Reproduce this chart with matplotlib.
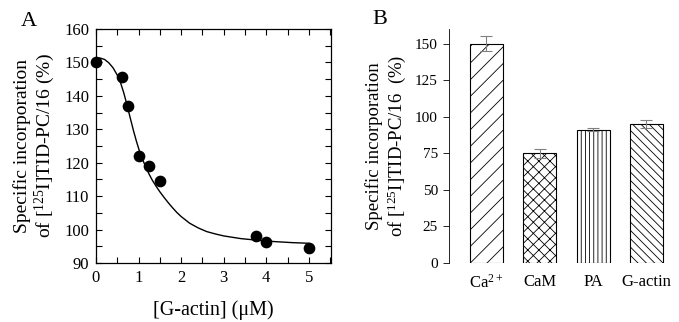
import matplotlib
matplotlib.use("Agg")
import matplotlib.pyplot as plt
from matplotlib.ticker import MultipleLocator

# panel A: measured points
actin_conc = [0.0, 0.62, 0.75, 1.0, 1.25, 1.5, 3.75, 4.0, 5.0]
incorporation = [150.0, 145.5, 137.0, 122.0, 119.0, 114.5, 98.2, 96.2, 94.5]

# panel A: fitted curve
curve_x = [0.0, 0.1, 0.2, 0.3, 0.4, 0.5, 0.58, 0.65, 0.72, 0.8, 0.88, 0.95, 1.02, 1.1,
           1.18, 1.25, 1.33, 1.42, 1.5, 1.6, 1.7, 1.8, 1.9, 2.0, 2.2, 2.4, 2.6, 2.8,
           3.0, 3.4, 3.8, 4.2, 4.6, 5.0]
curve_y = [151.3, 151.3, 150.9, 149.9, 148.4, 146.2, 143.8, 141.0, 137.7, 133.6, 129.6,
           126.4, 123.5, 120.8, 118.4, 116.5, 114.6, 112.8, 111.3, 109.6, 108.0, 106.5,
           105.1, 103.9, 101.9, 100.5, 99.4, 98.7, 98.1, 97.3, 96.8, 96.4, 96.1, 95.9]

# panel B
treatments = ["Ca$^{\\mathrm{2+}}$", "CaM", "PA", "G-actin"]
treatment_values = [150, 75, 91, 95]
treatment_errors = [5, 3, 1, 2.5]
hatches = ["//", "xxx", "||||", "\\\\\\\\"]

plt.rcParams["font.family"] = ["Liberation Serif", "DejaVu Serif"]
plt.rcParams["mathtext.fontset"] = "custom"
plt.rcParams["mathtext.rm"] = "Liberation Serif"
plt.rcParams["mathtext.it"] = "Liberation Serif:italic"
plt.rcParams["hatch.linewidth"] = 0.6

fig = plt.figure(figsize=(6.79, 3.22), dpi=100)

# ---- panel A ----
ax_a = fig.add_axes([96 / 679, 59 / 322, 235 / 679, 234 / 322])
ax_a.plot(curve_x, curve_y, color="black", lw=1.0)
ax_a.scatter(actin_conc, incorporation, s=55, color="black", zorder=3, clip_on=False)
ax_a.set_xlim(0, 5.52)
ax_a.set_ylim(90, 160)
ax_a.xaxis.set_major_locator(MultipleLocator(1))
ax_a.xaxis.set_minor_locator(MultipleLocator(0.5))
ax_a.yaxis.set_major_locator(MultipleLocator(10))
ax_a.yaxis.set_minor_locator(MultipleLocator(5))
ax_a.tick_params(which="both", direction="in", top=True, right=True, width=0.8)
ax_a.tick_params(which="major", length=4, labelsize=12, pad=5)
ax_a.tick_params(which="minor", length=4)
for s in ax_a.spines.values():
    s.set_linewidth(0.9)
ax_a.set_xlabel("[G-actin] (μM)", fontsize=14.5, labelpad=10)
ax_a.set_ylabel("Specific incorporation\nof [$^{\\mathrm{125}}$I]TID-PC/16 (%)",
                fontsize=14, linespacing=1.12, labelpad=5)
fig.text(29 / 679, 1 - 22 / 322, "A", fontsize=16, ha="center", va="center")

# ---- panel B ----
ax_b = fig.add_axes([449 / 679, 59 / 322, 223 / 679, 234 / 322])
pos = range(len(treatments))
ax_b.bar(pos, treatment_values, width=0.62, color="white", edgecolor="black",
         linewidth=0.8, hatch=hatches)
ax_b.errorbar(pos, treatment_values, yerr=treatment_errors, fmt="none",
              ecolor="#808080", elinewidth=0.8, capsize=4, capthick=0.8)
ax_b.set_xlim(-0.70, 3.48)
ax_b.set_ylim(0, 160)
ax_b.yaxis.set_major_locator(MultipleLocator(25))
ax_b.set_xticks(list(pos))
ax_b.set_xticklabels(treatments)
ax_b.tick_params(axis="x", length=0, labelsize=12, pad=8)
ax_b.tick_params(axis="y", direction="out", length=4, width=0.6, labelsize=11, pad=4)
for side in ("top", "right", "bottom"):
    ax_b.spines[side].set_visible(False)
ax_b.spines["left"].set_linewidth(0.6)
ax_b.set_ylabel("Specific incorporation\nof [$^{\\mathrm{125}}$I]TID-PC/16  (%)",
                fontsize=13.5, linespacing=1.15, labelpad=5)
fig.text(380 / 679, 1 - 19 / 322, "B", fontsize=16, ha="center", va="center")

fig.savefig("out.png", dpi=100)
